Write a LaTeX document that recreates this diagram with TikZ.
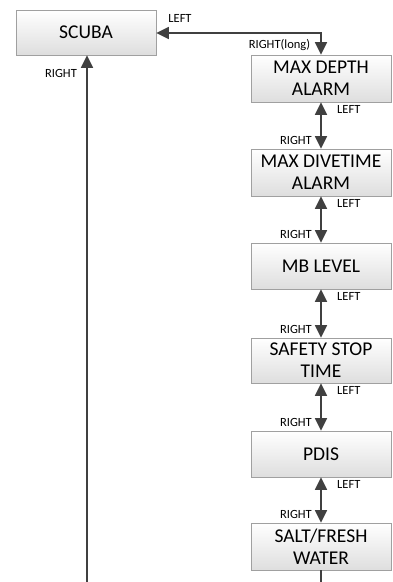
\documentclass[tikz,border=0pt]{standalone}
\usepackage{fontspec}
\setmainfont{Carlito}
\usetikzlibrary{arrows.meta}
\definecolor{boxline}{RGB}{160,160,160}
\definecolor{boxbot}{RGB}{222,222,222}
\definecolor{arr}{RGB}{64,64,64}
\tikzset{
  menubox/.style={draw=boxline, line width=0.8pt, top color=white, bottom color=boxbot,
    minimum width=140pt, minimum height=46pt, inner sep=0pt, align=center,
    font=\fontsize{19.5}{22}\selectfont},
  lbl/.style={font=\fontsize{12.5}{14}\selectfont, inner sep=0pt, text=black},
  conn/.style={draw=arr, line width=1.7pt, -{Triangle[length=12.5pt,width=12pt]}},
  dconn/.style={draw=arr, line width=1.7pt, {Triangle[length=12.5pt,width=12pt]}-{Triangle[length=12.5pt,width=12pt]}},
}
\begin{document}
\begin{tikzpicture}[x=1pt,y=-1pt]
\useasboundingbox (0,0) rectangle (392,582);
\node[menubox, minimum height=45pt] (scuba) at (86,32.5) {SCUBA};
\node[menubox, minimum height=47pt] (depth) at (321,78.5) {MAX DEPTH\\ALARM};
\node[menubox, minimum height=47pt] (dive) at (321,172.5) {MAX DIVETIME\\ALARM};
\node[menubox] (mb) at (321,266) {MB LEVEL};
\node[menubox, minimum height=45pt] (safety) at (321,360.5) {SAFETY STOP\\TIME};
\node[menubox] (pdis) at (321,454) {PDIS};
\node[menubox, minimum height=47pt] (salt) at (321,546.5) {SALT/FRESH\\WATER};
\coordinate (corner) at (321,33);
\coordinate (botL) at (87,583);
\coordinate (botR) at (321,583);
% top connector
\draw[dconn] (scuba.east |- corner) -- (corner) -- (depth.north);
\node[lbl] (tl) at (180,18) {LEFT};
\node[lbl] (tr) at (279.5,45) {RIGHT(long)};
% chain
\draw[dconn] (depth.south) -- (dive.north);
\draw[dconn] (dive.south) -- (mb.north);
\draw[dconn] (mb.south) -- (safety.north);
\draw[dconn] (safety.south) -- (pdis.north);
\draw[dconn] (pdis.south) -- (salt.north);
\foreach \a/\b in {depth/dive, dive/mb, mb/safety, safety/pdis, pdis/salt}{
  \node[lbl, anchor=west] (l-\a) at ([xshift=16pt,yshift=-7pt]\a.south) {LEFT};
  \node[lbl, anchor=east] (r-\b) at ([xshift=-9pt,yshift=8pt]\b.north) {RIGHT};
}
% bottom lines
\draw[draw=arr, line width=1.7pt] (salt.south) -- (botR);
\draw[conn] (botL) -- (botL |- scuba.south);
\node[lbl] (sr) at (61,73) {RIGHT};
\end{tikzpicture}
\end{document}
